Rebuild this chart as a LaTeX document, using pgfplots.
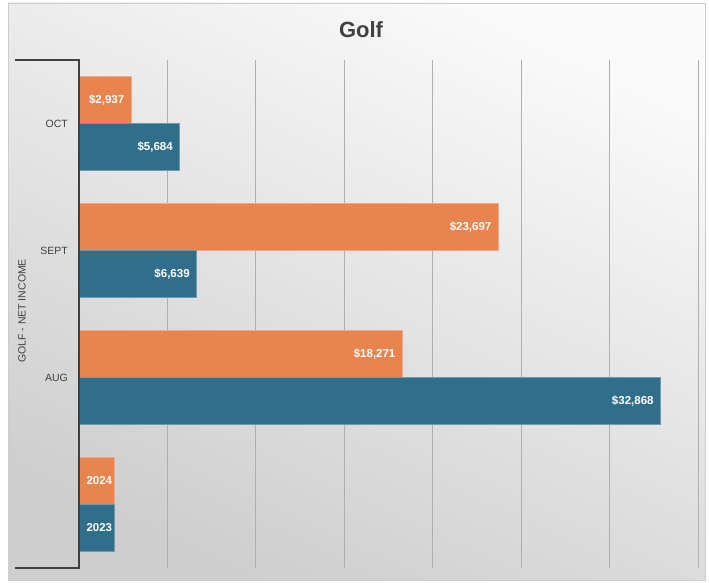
\documentclass[border=0pt]{standalone}
\usepackage{pgfplots}
\pgfplotsset{compat=1.18}
\usepackage{fontspec}
\setmainfont{Liberation Sans}
\definecolor{barorange}{RGB}{233,132,79}
\definecolor{barblue}{RGB}{48,110,140}
\definecolor{txt}{RGB}{64,64,64}
\definecolor{gridc}{RGB}{175,175,175}
\begin{document}
\begin{tikzpicture}[x=1pt,y=1pt]
% page bounds
\path[use as bounding box] (0,0) rectangle (709,583);
\fill[white] (0,0) rectangle (709,583);
\shade[top color={rgb,255:red,250;green,250;blue,250}, bottom color={rgb,255:red,206;green,206;blue,206}, shading angle=-25] (8,3) rectangle (705,580);
\draw[color={rgb,255:red,205;green,205;blue,205}, line width=0.8pt] (8,3) rectangle (705,580);
\begin{axis}[
  at={(79pt,15pt)}, anchor=south west,
  scale only axis, width=619pt, height=508pt,
  xbar, bar width=0.37,
  xmin=0, xmax=35000, ymin=-0.5, ymax=3.5,
  scaled x ticks=false,
  axis line style={draw=none},
  xtick={5000,10000,...,35000}, xticklabels={},
  xmajorgrids, grid style={color=gridc, line width=0.8pt},
  major tick length=0pt,
  ytick={1,2,3}, yticklabels={AUG,SEPT,OCT},
  yticklabel style={font=\fontsize{10.5}{12}\selectfont, text=txt, inner sep=0pt, xshift=-11pt},
  nodes near coords,
  point meta=explicit symbolic,
  every node near coord/.append style={anchor=east, inner sep=0pt, xshift=-6.5pt, text=white, font=\bfseries\fontsize{11.5}{13}\selectfont},
  clip=false,
]
\addplot[fill=barorange, draw=barorange!70!white, line width=0.5pt, bar shift=0.185]
  coordinates {(2937,3) [\$2,937] (23697,2) [\$23,697] (18271,1) [\$18,271]};
\addplot[fill=barblue, draw=barblue!70!white, line width=0.5pt, bar shift=-0.185]
  coordinates {(5684,3) [\$5,684] (6639,2) [\$6,639] (32868,1) [\$32,868]};
\addplot[fill=barorange, draw=barorange!70!white, line width=0.5pt, bar shift=0.185,
  every node near coord/.append style={xshift=4.5pt}]
  coordinates {(2000,0) [2024]};
\addplot[fill=barblue, draw=barblue!70!white, line width=0.5pt, bar shift=-0.185,
  every node near coord/.append style={xshift=4.5pt}]
  coordinates {(2000,0) [2023]};
\end{axis}
% category bracket axis
\draw[color=txt, line width=1.3pt] (15,523) -- (79,523) -- (79,15) -- (15,15);
\node[rotate=90, text=txt, font=\fontsize{10.5}{12}\selectfont] at (22,272) {GOLF - NET INCOME};
\node[text=txt, font=\bfseries\fontsize{22}{26}\selectfont] at (361,553) {Golf};
\end{tikzpicture}
\end{document}
